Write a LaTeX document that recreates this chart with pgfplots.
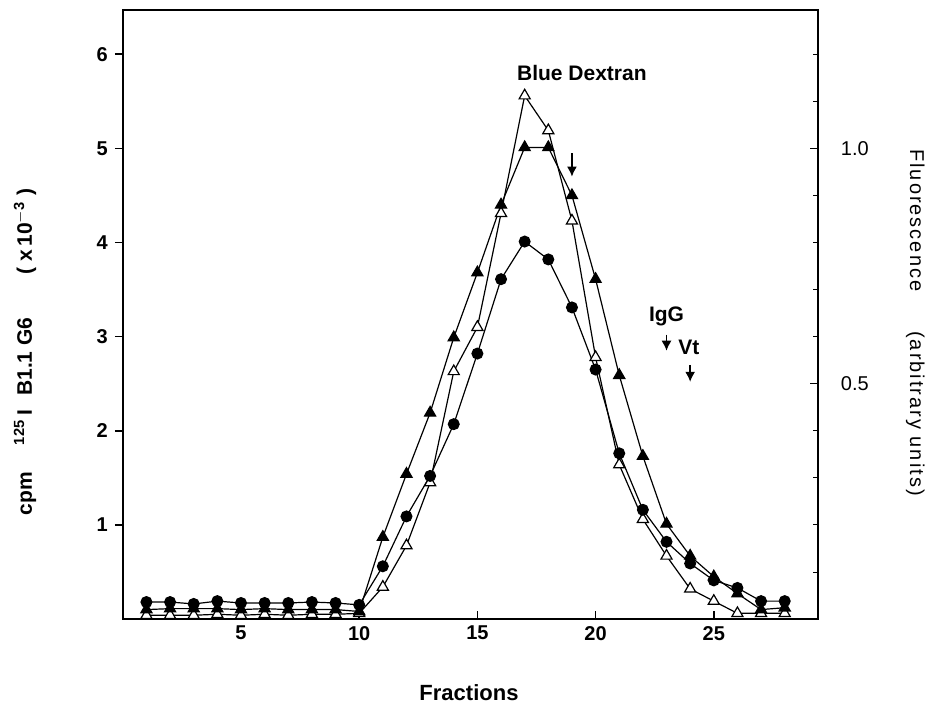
\documentclass[border=0pt]{standalone}
\usepackage{fontspec}
\setmainfont{Liberation Sans}
\usepackage{pgfplots}
\pgfplotsset{compat=1.18}
\usetikzlibrary{arrows.meta}

\pgfplotsset{
  common/.style={
    scale only axis, width=347.5pt, height=304.5pt,
    at={(61.4pt,43.5pt)}, anchor=south west,
    xmin=0, xmax=29.4, ymin=0, ymax=6.47,
    axis line style={line width=1pt},
    /pgf/number format/assume math mode=true,
    tick label style={font=\fontsize{10}{12}\selectfont\bfseries},
    major tick length=4pt,
    tick style={line width=0.8pt, black},
  }
}

\begin{document}
\begin{tikzpicture}
\useasboundingbox (0pt,0pt) rectangle (466pt,353pt);

\begin{axis}[common,
  xtick pos=bottom, ytick pos=left,
  xtick={5,10,15,20,25},
  ytick={1,2,3,4,5,6},
  xtick align=inside, ytick align=outside,
  every axis plot/.append style={black, line width=0.6pt},
  clip=false,
]
% open triangles
\addplot[mark=triangle*, mark size=3.2pt, mark options={fill=white, line width=0.6pt}] coordinates {
(1,0.04)(2,0.04)(3,0.04)(4,0.05)(5,0.04)(6,0.05)(7,0.04)(8,0.05)(9,0.05)(10,0.06)
(11,0.34)(12,0.78)(13,1.45)(14,2.63)(15,3.10)(16,4.31)(17,5.56)(18,5.19)(19,4.23)(20,2.78)
(21,1.64)(22,1.06)(23,0.67)(24,0.32)(25,0.19)(26,0.06)(27,0.06)(28,0.06)};
% filled circles
\addplot[mark=*, mark size=2.7pt] coordinates {
(1,0.18)(2,0.18)(3,0.16)(4,0.19)(5,0.17)(6,0.17)(7,0.17)(8,0.18)(9,0.17)(10,0.15)
(11,0.56)(12,1.09)(13,1.52)(14,2.07)(15,2.82)(16,3.61)(17,4.01)(18,3.82)(19,3.31)(20,2.65)
(21,1.76)(22,1.16)(23,0.82)(24,0.59)(25,0.41)(26,0.33)(27,0.19)(28,0.19)};
% filled triangles
\addplot[mark=triangle*, mark size=3.2pt] coordinates {
(1,0.10)(2,0.11)(3,0.11)(4,0.11)(5,0.10)(6,0.11)(7,0.10)(8,0.10)(9,0.10)(10,0.08)
(11,0.87)(12,1.54)(13,2.19)(14,2.99)(15,3.68)(16,4.40)(17,5.01)(18,5.01)(19,4.50)(20,3.61)
(21,2.59)(22,1.73)(23,1.01)(24,0.67)(25,0.45)(26,0.27)(27,0.10)(28,0.12)};

\draw[line width=0.7pt, -{Latex[length=5pt,width=5pt]}] (axis cs:19,4.95) -- (axis cs:19,4.70);
\draw[line width=0.7pt, -{Latex[length=5pt,width=5pt]}] (axis cs:23,3.02) -- (axis cs:23,2.85);
\draw[line width=0.7pt, -{Latex[length=5pt,width=5pt]}] (axis cs:24,2.70) -- (axis cs:24,2.52);
\node[font=\fontsize{10.5}{13}\selectfont\bfseries] at (axis cs:19.42,5.80) {Blue Dextran};
\node[font=\fontsize{10.5}{13}\selectfont\bfseries] at (axis cs:23.0,3.22) {IgG};
\node[font=\fontsize{10.5}{13}\selectfont\bfseries] at (axis cs:23.95,2.89) {Vt};
\end{axis}

\begin{axis}[common,
  ymax=1.294,
  axis x line=none, axis y line*=right,
  xtick=\empty,
  ytick={0.5,1.0},
  yticklabels={0.5,1.0},
  yticklabel style={font=\fontsize{10}{12}\selectfont, xshift=8pt},
  tick align=inside,
  minor ytick={0.1,0.2,0.3,0.4,0.6,0.7,0.8,0.9,1.1,1.2},
  minor tick length=2.5pt,
  minor tick style={line width=0.4pt, black},
]
\end{axis}

% axis labels
\node[font=\fontsize{11}{13}\selectfont\bfseries] at (234.5pt,6.5pt) {Fractions};
\node[font=\fontsize{10.5}{13}\selectfont\bfseries, rotate=90, anchor=base, inner sep=0pt] at (16pt,177pt)
  {cpm\hspace{13.5pt}\textsuperscript{125}\hspace{2pt}I\hspace{7pt}B1.1 G6\hspace{21.5pt}( x\,10\textsuperscript{$-$3} )};
\node[font=\fontsize{10}{13}\selectfont\addfontfeature{LetterSpace=10}, rotate=-90, anchor=base, inner sep=0pt] at (455pt,191.75pt)
  {Fluorescence\hspace{20pt}(arbitrary units)};
\end{tikzpicture}
\end{document}
